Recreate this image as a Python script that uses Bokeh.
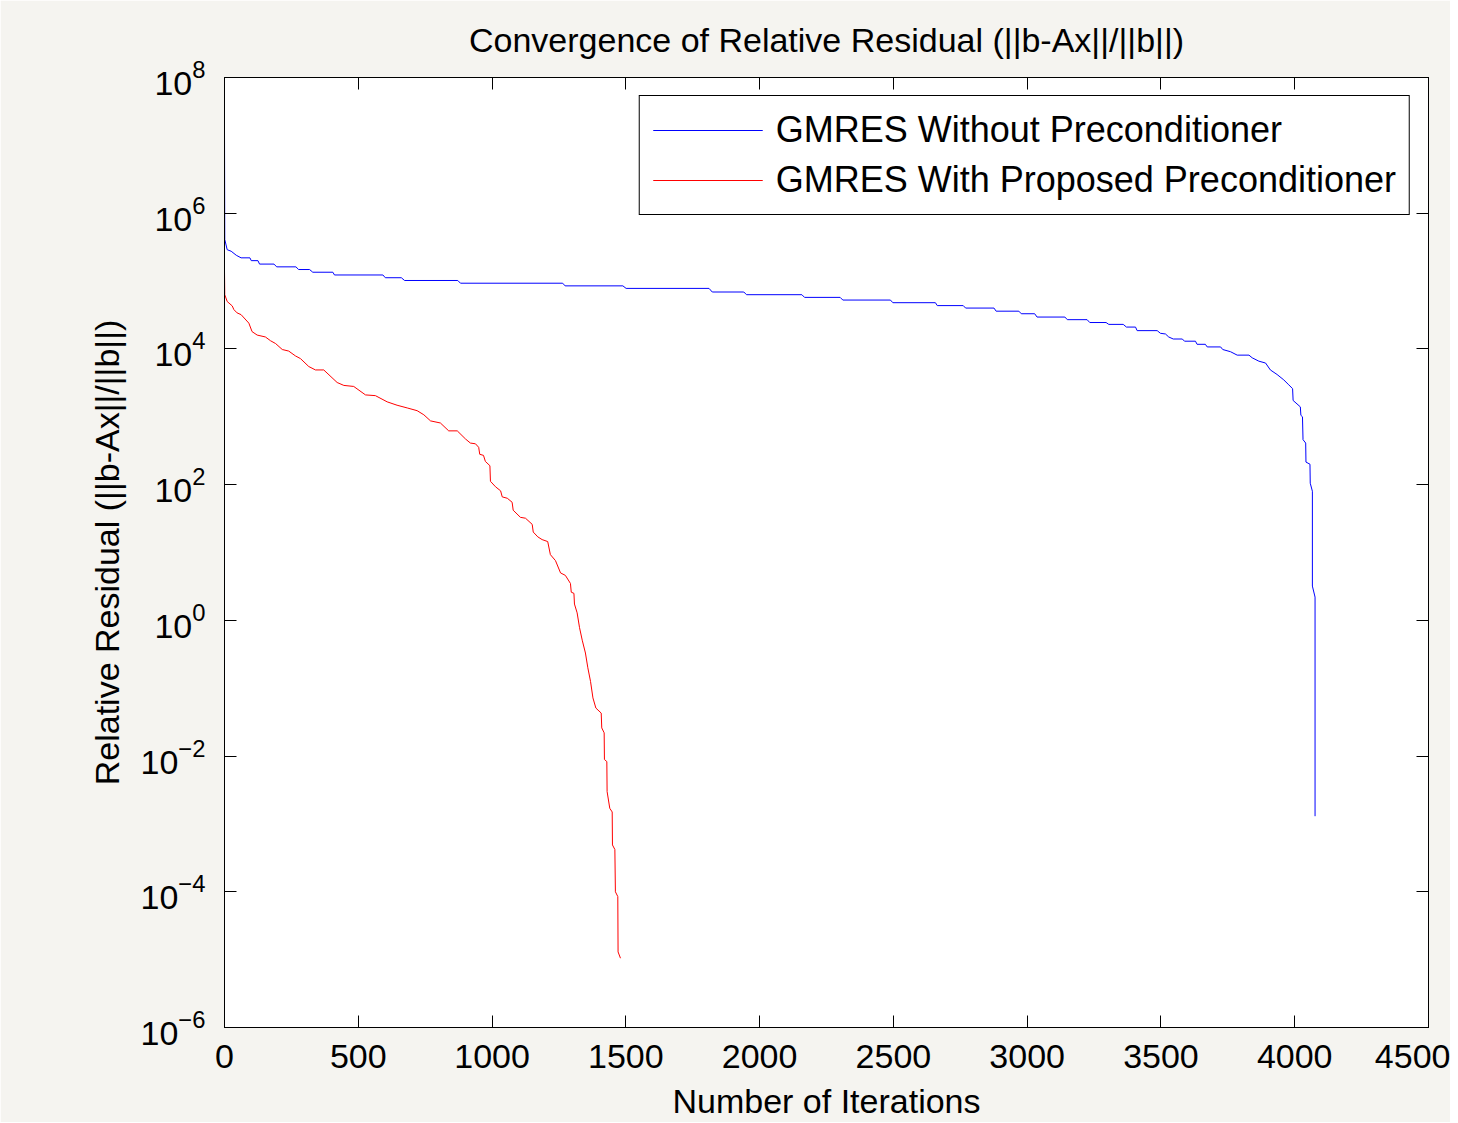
from bokeh.plotting import figure
from bokeh.models import (LogAxis, LinearAxis, FixedTicker, Legend, LegendItem,
                          Range1d, ColumnDataSource)
from bokeh.embed import file_html
from bokeh.resources import INLINE

# ---------------- data ----------------
blue_iter = [0, 1, 10, 25, 44, 62, 95, 100, 125, 131, 185, 195, 267, 277, 318, 330,
             405, 411, 592, 601, 661, 673, 872, 882, 1264, 1273, 1489, 1501, 1811,
             1823, 1941, 1951, 2158, 2168, 2301, 2311, 2489, 2498, 2657, 2664, 2761,
             2770, 2876, 2884, 2969, 2978, 3028, 3037, 3141, 3150, 3224, 3234, 3295,
             3305, 3359, 3371, 3405, 3411, 3486, 3498, 3517, 3529, 3546, 3580, 3588,
             3629, 3635, 3666, 3673, 3723, 3731, 3760, 3785, 3829, 3841, 3866, 3891,
             3909, 3934, 3959, 3978, 3992, 3994, 4021, 4023, 4029, 4031, 4041, 4042,
             4057, 4058, 4066, 4066, 4076, 4076]
blue_res = [1.8e7, 4.1e5, 2.9e5, 2.75e5, 2.4e5, 2.2e5, 2.2e5, 2.0e5, 2.0e5, 1.78e5,
            1.78e5, 1.62e5, 1.62e5, 1.48e5, 1.48e5, 1.35e5, 1.35e5, 1.23e5, 1.23e5,
            1.12e5, 1.12e5, 1.02e5, 1.02e5, 9.3e4, 9.3e4, 8.5e4, 8.5e4, 7.8e4, 7.8e4,
            6.9e4, 6.9e4, 6.3e4, 6.3e4, 5.75e4, 5.75e4, 5.25e4, 5.25e4, 4.8e4, 4.8e4,
            4.35e4, 4.35e4, 4.0e4, 4.0e4, 3.6e4, 3.6e4, 3.3e4, 3.3e4, 2.95e4, 2.95e4,
            2.7e4, 2.7e4, 2.45e4, 2.45e4, 2.3e4, 2.3e4, 2.1e4, 2.1e4, 1.86e4, 1.86e4,
            1.7e4, 1.66e4, 1.5e4, 1.4e4, 1.4e4, 1.3e4, 1.3e4, 1.17e4, 1.17e4, 1.07e4,
            1.07e4, 9.8e3, 9.1e3, 8.1e3, 8.1e3, 7.4e3, 6.6e3, 6.2e3, 4.9e3, 4.2e3,
            3.5e3, 2.95e3, 2.6e3, 1.74e3, 1.4e3, 1.05e3, 1.0e3, 460, 410, 215, 200,
            105, 80, 3.2, 2.2, 1.3e-3]

red_iter = [0, 1, 10, 29, 35, 47, 62, 91, 103, 122, 153, 172, 191, 216, 240, 265, 284,
            315, 340, 371, 421, 446, 483, 527, 564, 608, 645, 683, 720, 745, 770, 807,
            838, 870, 901, 919, 938, 950, 954, 968, 975, 992, 994, 1013, 1032, 1038,
            1057, 1075, 1079, 1106, 1125, 1150, 1154, 1171, 1187, 1208, 1218, 1237,
            1256, 1274, 1293, 1296, 1306, 1308, 1318, 1327, 1337, 1349, 1358, 1368,
            1377, 1388, 1408, 1410, 1419, 1420, 1429, 1430, 1440, 1449, 1450, 1459,
            1461, 1470, 1471, 1480]
red_res = [1.4e5, 6.3e4, 5.0e4, 4.3e4, 3.8e4, 3.4e4, 3.2e4, 2.4e4, 1.8e4, 1.6e4, 1.5e4,
           1.32e4, 1.2e4, 9.8e3, 9.3e3, 7.9e3, 7.2e3, 5.5e3, 4.9e3, 4.9e3, 3.2e3, 2.9e3,
           2.8e3, 2.1e3, 2.05e3, 1.66e3, 1.48e3, 1.35e3, 1.23e3, 1.07e3, 870, 810, 620,
           620, 470, 410, 400, 355, 280, 270, 220, 190, 112, 93, 81, 66, 63, 55, 42, 33,
           32, 26, 20, 17, 15.5, 14.5, 9.3, 7.6, 5.0, 4.6, 3.5, 2.6, 2.5, 1.74, 1.29,
           0.78, 0.51, 0.33, 0.20, 0.126, 0.072, 0.051, 0.043, 0.026, 0.022, 0.0089,
           0.0083, 0.0030, 0.0017, 0.0015, 4.9e-4, 4.2e-4, 1.0e-4, 8.5e-5, 1.3e-5,
           1.05e-5]

x_ticks = [0, 500, 1000, 1500, 2000, 2500, 3000, 3500, 4000, 4500]
y_ticks = [1e-6, 1e-4, 1e-2, 1e0, 1e2, 1e4, 1e6, 1e8]

title_text = "Convergence of Relative Residual (||b-Ax||/||b||)"
x_label = "Number of Iterations"
y_label = "Relative Residual (||b-Ax||/||b||)"
series_labels = ["GMRES Without Preconditioner", "GMRES With Proposed Preconditioner"]
series_colors = ["#0000ff", "#ff0000"]

FONT = "Liberation Sans"
BG = "#f5f4f0"

p = figure(frame_width=1204, frame_height=950,
           y_axis_type="log",
           x_range=Range1d(0, 4500), y_range=Range1d(1e-6, 1e8),
           output_backend="svg", toolbar_location=None,
           min_border_left=224, min_border_top=76, min_border_right=22,
           min_border_bottom=5,
           title=title_text)

p.background_fill_color = "white"
p.border_fill_color = BG
p.outline_line_color = "black"
p.outline_line_alpha = 1
p.outline_line_width = 1
p.xgrid.visible = False
p.ygrid.visible = False

p.title.text_font = FONT
p.title.text_font_size = "34px"
p.title.text_font_style = "normal"
p.title.align = "center"
p.title.text_color = "black"
p.title.standoff = 37


def style_axis(ax, show_labels=True):
    ax.axis_line_color = "black"
    ax.major_tick_line_color = "black"
    ax.major_tick_in = 12
    ax.major_tick_out = 0
    ax.minor_tick_in = 0
    ax.minor_tick_out = 0
    ax.minor_tick_line_color = None
    ax.major_label_text_font = FONT
    if show_labels:
        ax.major_label_text_font_size = "34px"
        ax.major_label_text_color = "black"
    else:
        ax.major_label_text_font_size = "1px"
        ax.major_label_text_color = None
        ax.major_label_standoff = 0


xa = p.xaxis[0]
xa.ticker = FixedTicker(ticks=x_ticks)
style_axis(xa)
xa.major_label_standoff = 17
xa.axis_label = x_label
xa.axis_label_text_font = FONT
xa.axis_label_text_font_size = "34px"
xa.axis_label_text_font_style = "normal"
xa.axis_label_text_color = "black"
xa.axis_label_standoff = 11

ya = p.yaxis[0]
ya.ticker = FixedTicker(ticks=y_ticks)
style_axis(ya)
ya.major_label_standoff = 19
ya.axis_label = y_label
ya.axis_label_text_font = FONT
ya.axis_label_text_font_size = "34px"
ya.axis_label_text_font_style = "normal"
ya.axis_label_text_color = "black"
ya.axis_label_standoff = 12

top_ax = LinearAxis(ticker=FixedTicker(ticks=x_ticks))
style_axis(top_ax, show_labels=False)
p.add_layout(top_ax, "above")

right_ax = LogAxis(ticker=FixedTicker(ticks=y_ticks))
style_axis(right_ax, show_labels=False)
p.add_layout(right_ax, "right")

src_b = ColumnDataSource(dict(x=blue_iter, y=blue_res))
src_r = ColumnDataSource(dict(x=red_iter, y=red_res))
rb = p.line("x", "y", source=src_b, line_color=series_colors[0], line_width=1)
rr = p.line("x", "y", source=src_r, line_color=series_colors[1], line_width=1)

# legend-key renderers (a single NaN point: nothing is drawn in the plot)
nan = float("nan")
kb = p.line(x=[nan], y=[nan], line_color=series_colors[0], line_width=1.2)
kr = p.line(x=[nan], y=[nan], line_color=series_colors[1], line_width=1.2)

legend = Legend(items=[LegendItem(label=series_labels[0], renderers=[kb]),
                       LegendItem(label=series_labels[1], renderers=[kr])],
                location="top_right",
                label_text_font=FONT, label_text_font_size="36px",
                label_text_color="black",
                glyph_width=110, glyph_height=30, label_standoff=13,
                padding=13, spacing=8, margin=18,
                border_line_color="black", border_line_alpha=1,
                border_line_width=1,
                background_fill_color="white", background_fill_alpha=1)
p.add_layout(legend)

open("out.html", "w").write(file_html(p, INLINE))
